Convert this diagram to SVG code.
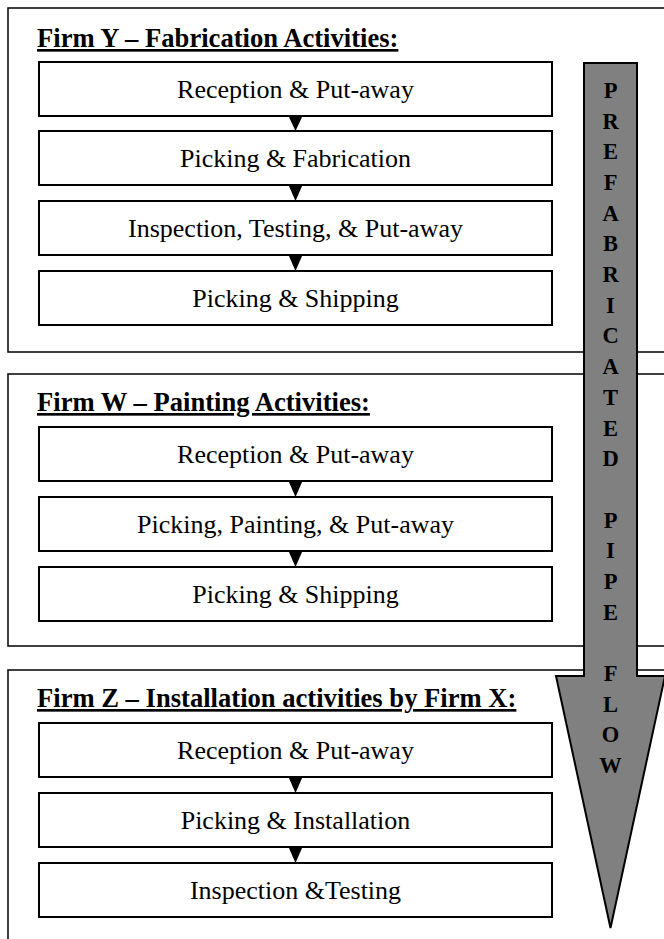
<svg xmlns="http://www.w3.org/2000/svg" width="664" height="939" viewBox="0 0 664 939">
<style>
.outer{fill:#fff;stroke:#111;stroke-width:1.6}
.box{fill:#fff;stroke:#000;stroke-width:2}
.t{font-family:"Liberation Serif","Times New Roman",serif;font-size:26px;fill:#000;text-anchor:middle}
.h{font-family:"Liberation Serif","Times New Roman",serif;font-size:26.6px;font-weight:bold;fill:#000;text-decoration:underline}
.v{font-family:"Liberation Serif","Times New Roman",serif;font-size:22.5px;font-weight:bold;fill:#000;text-anchor:middle}
.tri{fill:#000}
</style>
<rect width="664" height="939" fill="#fff"/>
<g id="firmY">
<rect class="outer" x="8" y="8" width="700" height="344"/>
<text class="h" x="37" y="47">Firm Y – Fabrication Activities:</text>
</g>
<g id="firmW">
<rect class="outer" x="8" y="374" width="700" height="272"/>
<text class="h" x="37" y="411">Firm W – Painting Activities:</text>
</g>
<g id="firmZ">
<rect class="outer" x="8" y="670" width="700" height="300"/>
<text class="h" x="37" y="707">Firm Z – Installation activities by Firm X:</text>
</g>
<g id="y1"><rect class="box" x="39" y="62" width="513" height="54"/><text class="t" x="295.5" y="98">Reception &amp; Put-away</text></g>
<g id="y2"><rect class="box" x="39" y="131" width="513" height="54"/><text class="t" x="295.5" y="167">Picking &amp; Fabrication</text></g>
<g id="y3"><rect class="box" x="39" y="201" width="513" height="54"/><text class="t" x="295.5" y="237">Inspection, Testing, &amp; Put-away</text></g>
<g id="y4"><rect class="box" x="39" y="271" width="513" height="54"/><text class="t" x="295.5" y="307">Picking &amp; Shipping</text></g>
<g id="w1"><rect class="box" x="39" y="427" width="513" height="54"/><text class="t" x="295.5" y="463">Reception &amp; Put-away</text></g>
<g id="w2"><rect class="box" x="39" y="497" width="513" height="54"/><text class="t" x="295.5" y="533">Picking, Painting, &amp; Put-away</text></g>
<g id="w3"><rect class="box" x="39" y="567" width="513" height="54"/><text class="t" x="295.5" y="603">Picking &amp; Shipping</text></g>
<g id="z1"><rect class="box" x="39" y="723" width="513" height="54"/><text class="t" x="295.5" y="759">Reception &amp; Put-away</text></g>
<g id="z2"><rect class="box" x="39" y="793" width="513" height="54"/><text class="t" x="295.5" y="829">Picking &amp; Installation</text></g>
<g id="z3"><rect class="box" x="39" y="863" width="513" height="54"/><text class="t" x="295.5" y="899">Inspection &amp;Testing</text></g>
<g id="connectors">
<polygon class="tri" points="288.5,116 302.5,116 295.5,131"/>
<polygon class="tri" points="288.5,185 302.5,185 295.5,201"/>
<polygon class="tri" points="288.5,255 302.5,255 295.5,271"/>
<polygon class="tri" points="288.5,481 302.5,481 295.5,497"/>
<polygon class="tri" points="288.5,551 302.5,551 295.5,567"/>
<polygon class="tri" points="288.5,777 302.5,777 295.5,793"/>
<polygon class="tri" points="288.5,847 302.5,847 295.5,863"/>
</g>
<g id="flowArrow">
<polygon points="584,63 637,63 637,676 665,676 610.5,928 556,676 584,676" fill="#808080" stroke="#000" stroke-width="2" stroke-linejoin="miter"/>
<text class="v"><tspan x="610.5" y="98">P</tspan><tspan x="610.5" y="128.7">R</tspan><tspan x="610.5" y="159.4">E</tspan><tspan x="610.5" y="190">F</tspan><tspan x="610.5" y="220.7">A</tspan><tspan x="610.5" y="251.4">B</tspan><tspan x="610.5" y="282.1">R</tspan><tspan x="610.5" y="312.8">I</tspan><tspan x="610.5" y="343.4">C</tspan><tspan x="610.5" y="374.1">A</tspan><tspan x="610.5" y="404.8">T</tspan><tspan x="610.5" y="435.5">E</tspan><tspan x="610.5" y="466.2">D</tspan><tspan x="610.5" y="527.5">P</tspan><tspan x="610.5" y="558.2">I</tspan><tspan x="610.5" y="588.9">P</tspan><tspan x="610.5" y="619.6">E</tspan><tspan x="610.5" y="680.9">F</tspan><tspan x="610.5" y="711.6">L</tspan><tspan x="610.5" y="742.3">O</tspan><tspan x="610.5" y="773">W</tspan></text>
</g>
</svg>
